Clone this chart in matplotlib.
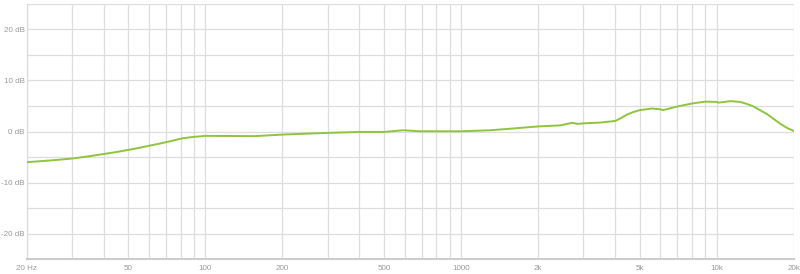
import numpy as np
import matplotlib.pyplot as plt

# frequency response
freq = [20, 25, 30, 35, 40, 45, 50, 55, 60, 65, 70, 75, 80, 85, 90, 100,
        156, 200, 300, 400, 500, 593, 690, 1000, 1300, 1600, 2000,
        2440, 2710, 2870, 3000, 3490, 4000, 4200, 4440, 4700, 5000, 5570, 6000, 6160,
        7000, 8000, 9000, 10000, 10100, 11300, 12300, 13100, 13900, 15700, 17700, 18800, 20000]
gain = [-6.0, -5.65, -5.3, -4.85, -4.4, -4.0, -3.6, -3.2, -2.8, -2.45, -2.1, -1.75, -1.4, -1.2, -1.05, -0.85,
        -0.9, -0.6, -0.27, -0.08, -0.08, 0.25, 0.05, 0.05, 0.25, 0.6, 1.0,
        1.2, 1.7, 1.5, 1.6, 1.75, 2.07, 2.6, 3.3, 3.8, 4.2, 4.5, 4.35, 4.2,
        4.9, 5.5, 5.85, 5.8, 5.65, 5.95, 5.8, 5.4, 4.9, 3.4, 1.5, 0.7, 0.1]

x_ticks = [20, 50, 100, 200, 500, 1000, 2000, 5000, 10000, 20000]
x_labels = ["20 Hz", "50", "100", "200", "500", "1000", "2k", "5k", "10k", "20k"]
x_grid = [20, 30, 40, 50, 60, 70, 80, 90,
          100, 200, 300, 400, 500, 600, 700, 800, 900,
          1000, 2000, 3000, 4000, 5000, 6000, 7000, 8000, 9000,
          10000, 20000]
y_ticks = [20, 10, 0, -10, -20]
y_labels = ["20 dB", "10 dB", "0 dB", "-10 dB", "-20 dB"]
y_grid = [25, 20, 15, 10, 5, 0, -5, -10, -15, -20]

plt.rcParams['font.family'] = ['Liberation Sans', 'DejaVu Sans']

fig = plt.figure(figsize=(8, 2.74), dpi=100)
ax = fig.add_axes([0.0334, 0.054, 0.9591, 0.932])

for f in x_grid:
    ax.axvline(f, color="#dddddd", lw=0.9, zorder=1)
for g in y_grid:
    ax.axhline(g, color="#dddddd", lw=0.9, zorder=1)

ax.plot(freq, gain, color="#8fc43e", lw=1.4, zorder=3)

ax.set_xscale("log")
ax.set_xlim(20, 20000)
ax.set_ylim(-25, 25)
ax.set_xticks(x_ticks)
ax.set_xticklabels(x_labels)
ax.set_xticks([], minor=True)
ax.set_yticks(y_ticks)
ax.set_yticklabels(y_labels)
ax.tick_params(length=0, labelsize=5.8, colors="#999999", pad=4)
ax.tick_params(axis="y", pad=1.5)

for side in ["top", "right"]:
    ax.spines[side].set_visible(False)
ax.spines["left"].set_color("#dddddd")
ax.spines["left"].set_linewidth(0.9)
ax.spines["bottom"].set_color("#cccccc")
ax.spines["bottom"].set_linewidth(1.5)

fig.savefig("out.png", dpi=100)
